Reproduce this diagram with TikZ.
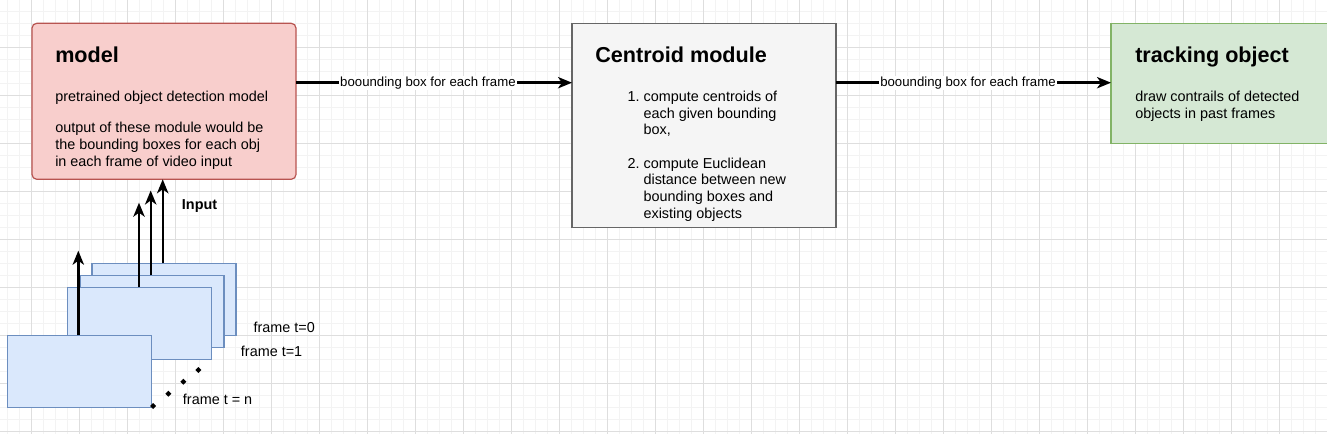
\documentclass[tikz,border=0pt]{standalone}
\usepackage{fontspec}
\setmainfont{Liberation Sans}
\usetikzlibrary{arrows.meta}
\definecolor{redfill}{HTML}{F8CECC}
\definecolor{redline}{HTML}{B85450}
\definecolor{grayfill}{HTML}{F5F5F5}
\definecolor{grayline}{HTML}{666666}
\definecolor{greenfill}{HTML}{D5E8D4}
\definecolor{greenline}{HTML}{82B366}
\definecolor{bluefill}{HTML}{DAE8FC}
\definecolor{blueline}{HTML}{6C8EBF}
\definecolor{gridminor}{HTML}{F3F3F3}
\definecolor{gridmajor}{HTML}{DEDEDE}
\begin{document}
\begin{tikzpicture}[x=0.75pt,y=-0.75pt,
  minorline/.style={gridminor,line width=0.75pt},
  majorline/.style={gridmajor,line width=0.75pt},
  box/.style={anchor=north west,inner sep=0pt,outer sep=0pt,line width=0.9pt},
  framebox/.style={box,fill=bluefill,draw=blueline,minimum width=108pt,minimum height=54pt},
  body/.style={font=\fontsize{10.8pt}{12.5pt}\selectfont,inner sep=0pt,anchor=base west,align=left},
  head/.style={font=\bfseries\fontsize{16.2pt}{19pt}\selectfont,inner sep=0pt,anchor=base west},
  elabel/.style={font=\fontsize{9.9pt}{11pt}\selectfont,fill=white,inner sep=0.75pt},
  arr/.style={line width=1.8pt,-{Stealth[length=10.5pt,width=8.5pt,inset=3pt]}}
]
\useasboundingbox (0,0) rectangle (1327,434);
\clip (0,0) rectangle (1327,434);
\fill[white] (0,0) rectangle (1327,434);
% grid
\foreach \i in {0,...,110} {\draw[minorline] ({7.3+12*\i},0) -- ({7.3+12*\i},434);}
\foreach \j in {0,...,36} {\draw[minorline] (0,{-0.7+12*\j}) -- (1327,{-0.7+12*\j});}
\foreach \i in {0,...,27} {\draw[majorline] ({31.3+48*\i},0) -- ({31.3+48*\i},434);}
\foreach \j in {0,...,9} {\draw[majorline] (0,{-0.7+48*\j}) -- (1327,{-0.7+48*\j});}

% main boxes
\node[box,fill=redfill,draw=redline,rounded corners=3.6pt,minimum width=198pt,minimum height=117pt] (model) at (32,23.3) {};
\node[box,fill=grayfill,draw=grayline,minimum width=198pt,minimum height=153pt] (cent) at (572,23.3) {};
\node[box,fill=greenfill,draw=greenline,minimum width=198pt,minimum height=90pt] (track) at (1111,23.3) {};

% texts (multi-line nodes are anchored at the baseline of their last line)
\node[head] (modelh) at (55,63) {model};
\node[body] (modelt1) at (55,101.7) {pretrained object detection model};
\node[body] (modelt2) at (55,166.1) {output of these module would be\\the bounding boxes for each obj\\in each frame of video input};

\node[head] (centh) at (595,63) {Centroid module};
\node[body] (centt) at (643.3,218.3) {\llap{1.\ }compute centroids of\\each given bounding\\box,\\[12.5pt]\llap{2.\ }compute Euclidean\\distance between new\\bounding boxes and\\existing objects};

\node[head] (trackh) at (1135,63) {tracking object};
\node[body] (trackt) at (1135,118.4) {draw contrails of detected\\objects in past frames};

% connectors between modules
\coordinate (ya) at (0,82.7);
\draw[arr] (model.east |- ya) -- node[elabel,pos=0.478] (l1) {boounding box for each frame} (cent.west |- ya);
\draw[arr] (cent.east |- ya) -- node[elabel,pos=0.48] (l2) {boounding box for each frame} (track.west |- ya);

% frames
\node[framebox] (fA) at (92,263.3) {};
\node[framebox] (fB) at (80,275.3) {};
\node[framebox] (fC) at (67.3,287.3) {};
\node[framebox] (fD) at (7.3,335.3) {};

\coordinate (tD) at (78.3,250.7);
\coordinate (tC) at (139,202.7);
\coordinate (tB) at (150.7,190.5);
\coordinate (tA) at (162.7,0);
\draw[arr] (fD.north -| tD) -- (tD);
\draw[arr] (fC.north -| tC) -- (tC);
\draw[arr] (fB.north -| tB) -- (tB);
\draw[arr] (fA.north -| tA) -- (model.south -| tA);

\node[body,font=\bfseries\fontsize{10.8pt}{12.5pt}\selectfont] (inp) at (181.7,209.3) {Input};
\node[body] (lA) at (253.3,332.3) {frame t=0};
\node[body] (lB) at (240.7,356.7) {frame t=1};
\node[body] (lD) at (182.7,404.3) {frame t = n};

% dots
\foreach \cx/\cy in {153/406, 168.3/393.7, 183.3/381.7, 198.3/370}
  {\fill (\cx-3,\cy) -- (\cx,\cy-3) -- (\cx+3,\cy) -- (\cx,\cy+3) -- cycle;}
\end{tikzpicture}
\end{document}
